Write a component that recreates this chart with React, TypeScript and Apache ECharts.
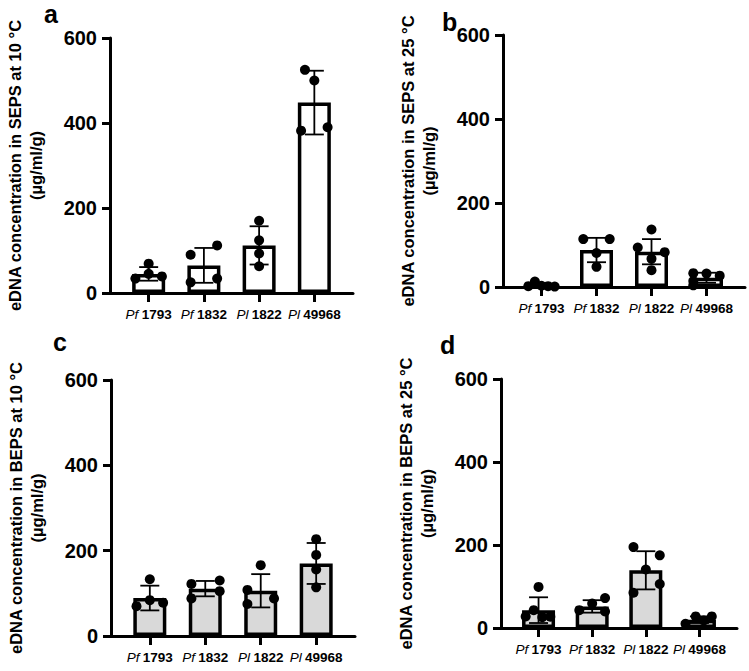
import React, { useEffect, useRef } from "react";
import * as echarts from "echarts";

// ---------- data ----------
const species = ["Pf", "Pf", "Pl", "Pl"];
const strains = ["1793", "1832", "1822", "49968"];
const yTicks = [0, 200, 400, 600];

// panel a: SEPS at 10 °C
const aMeans = [45, 65, 112, 448];
const aSD = [16, 41, 45, 75];
const aPoints = [[69, 45, 34, 39], [90, 112, 25, 34], [170, 124, 93, 63], [525, 500, 382, 390]];
const aJitter = [[0, 0, -0.24, 0.24], [-0.24, 0.24, -0.24, 0.24], [0, 0, 0, 0], [-0.17, 0, -0.24, 0.24]];

// panel b: SEPS at 25 °C
const bMeans = [3, 88, 84, 22];
const bSD = [5, 29, 30, 12];
const bPoints = [[2, 13, 3, 2, 1], [114, 114, 81, 48], [137, 94, 83, 67, 40], [33, 32, 27, 14, 4]];
const bJitter = [[-0.24, -0.12, 0, 0.12, 0.24], [-0.24, 0.24, 0, 0], [0, -0.25, 0.24, 0, 0], [-0.24, 0, 0.24, -0.24, -0.24]];

// panel c: BEPS at 10 °C
const cMeans = [89, 111, 106, 170];
const cSD = [29, 18, 39, 48];
const cPoints = [[133, 84, 70, 78], [122, 88, 130, 105], [166, 108, 75, 88], [227, 190, 156, 114]];
const cJitter = [[0, 0, -0.24, 0.24], [-0.25, -0.25, 0.26, 0.26], [0, -0.24, -0.24, 0.24], [0, 0, 0, 0]];

// panel d: BEPS at 25 °C
const dMeans = [43, 52, 139, 20];
const dSD = [31, 15, 46, 8];
const dPoints = [[99, 43, 28, 26, 27], [72, 59, 43, 40], [195, 175, 141, 106, 85], [28, 28, 18, 10]];
const dJitter = [[0, -0.09, -0.24, 0.07, 0.22], [0.24, 0, -0.24, 0.24], [-0.23, 0.26, 0, 0.26, -0.23], [-0.07, 0.23, 0.08, -0.26]];

const titles = [
  "eDNA concentration in SEPS at 10 °C\n(µg/ml/g)",
  "eDNA concentration in SEPS at 25 °C\n(µg/ml/g)",
  "eDNA concentration in BEPS at 10 °C\n(µg/ml/g)",
  "eDNA concentration in BEPS at 25 °C\n(µg/ml/g)",
];
const letters = ["a", "b", "c", "d"];

// ---------- layout ----------
const FONT = "'Liberation Sans', Arial, Helvetica, sans-serif";
const grids = [
  { left: 110, top: 38, width: 243, height: 255 },
  { left: 503, top: 35, width: 242, height: 252 },
  { left: 111, top: 380, width: 244, height: 256 },
  { left: 501, top: 379, width: 236, height: 249 },
];
const letterPos = [
  [44, 14],
  [442, 22],
  [53, 342],
  [440, 345],
];
const fills = ["#ffffff", "#ffffff", "#d9d9d9", "#d9d9d9"];

const panelData = [
  { means: aMeans, sd: aSD, pts: aPoints, jit: aJitter },
  { means: bMeans, sd: bSD, pts: bPoints, jit: bJitter },
  { means: cMeans, sd: cSD, pts: cPoints, jit: cJitter },
  { means: dMeans, sd: dSD, pts: dPoints, jit: dJitter },
];

function buildOption() {
  const catIdx = strains.map((_, i) => i);
  const grid: any[] = [];
  const xAxis: any[] = [];
  const yAxis: any[] = [];
  const series: any[] = [];

  panelData.forEach((p, k) => {
    grid.push({ ...grids[k], outerBoundsMode: "none", containLabel: false });
    xAxis.push({
      type: "value",
      gridIndex: k,
      min: -0.7,
      max: 3.7,
      splitLine: { show: false },
      axisLine: { show: true, onZero: false, lineStyle: { color: "#000", width: 3 } },
      axisTick: { show: true, customValues: catIdx, length: 9, lineStyle: { color: "#000", width: 3 } },
      axisLabel: {
        show: true,
        customValues: catIdx,
        margin: 14,
        formatter: (v: number) => `{i|${species[Math.round(v)]}} {b|${strains[Math.round(v)]}}`,
        rich: {
          i: { fontStyle: "italic", fontWeight: "normal", fontSize: 13.5, fontFamily: FONT, color: "#000" },
          b: { fontWeight: "bold", fontSize: 13.5, fontFamily: FONT, color: "#000" },
        },
      },
    });
    yAxis.push({
      type: "value",
      gridIndex: k,
      min: yTicks[0],
      max: yTicks[yTicks.length - 1],
      interval: yTicks[1] - yTicks[0],
      splitLine: { show: false },
      axisLine: { show: true, onZero: false, lineStyle: { color: "#000", width: 3 } },
      axisTick: { show: true, length: 8, lineStyle: { color: "#000", width: 3 } },
      axisLabel: { margin: 13, fontSize: 20, fontWeight: "bold", color: "#000", fontFamily: FONT },
      name: titles[k],
      nameLocation: "middle",
      nameRotate: 90,
      nameGap: 64,
      nameTextStyle: { fontSize: 16.5, fontWeight: "bold", color: "#000", fontFamily: FONT, lineHeight: 21 },
    });

    series.push({
      type: "bar",
      xAxisIndex: k,
      yAxisIndex: k,
      barWidth: 33,
      z: 2,
      itemStyle: { color: fills[k], borderColor: "#000", borderWidth: 3.5, opacity: 1 },
      data: p.means.map((m, i) => [i, m]),
    });
    series.push({
      type: "custom",
      xAxisIndex: k,
      yAxisIndex: k,
      z: 3,
      renderItem: (params: any, api: any) => {
        const x = api.value(0);
        const m = api.value(1);
        const s = api.value(2);
        const top = api.coord([x, m + s]);
        const bot = api.coord([x, Math.max(m - s, 0)]);
        const hw = 9.5;
        const st = { stroke: "#000", lineWidth: 1.8 };
        return {
          type: "group",
          children: [
            { type: "line", shape: { x1: top[0], y1: top[1], x2: bot[0], y2: bot[1] }, style: st },
            { type: "line", shape: { x1: top[0] - hw, y1: top[1], x2: top[0] + hw, y2: top[1] }, style: st },
            { type: "line", shape: { x1: bot[0] - hw, y1: bot[1], x2: bot[0] + hw, y2: bot[1] }, style: st },
          ],
        };
      },
      data: p.means.map((m, i) => [i, m, p.sd[i]]),
    });
    const pts: number[][] = [];
    p.pts.forEach((vals, i) => vals.forEach((v, j) => pts.push([i + p.jit[i][j], v])));
    series.push({
      type: "scatter",
      xAxisIndex: k,
      yAxisIndex: k,
      z: 4,
      symbol: "circle",
      symbolSize: 10,
      itemStyle: { color: "#000", opacity: 1 },
      data: pts,
    });
  });

  const graphic = letters.map((l, k) => ({
    type: "text",
    x: letterPos[k][0],
    y: letterPos[k][1],
    style: {
      text: l,
      fontSize: 25,
      fontWeight: "bold",
      fontFamily: FONT,
      fill: "#000",
      textAlign: "left",
      verticalAlign: "middle",
    },
  }));

  return {
    animation: false,
    backgroundColor: "#ffffff",
    textStyle: { fontFamily: FONT },
    grid,
    xAxis,
    yAxis,
    series,
    graphic,
  };
}

export default function App() {
  const ref = useRef<HTMLDivElement>(null);
  useEffect(() => {
    if (!ref.current) return;
    const chart = echarts.init(ref.current, null, { renderer: "svg" });
    chart.setOption(buildOption() as any);
    return () => chart.dispose();
  }, []);
  return (
    <div
      ref={ref}
      style={{ position: "fixed", left: 0, top: 0, width: 749, height: 671, background: "#fff" }}
    />
  );
}
